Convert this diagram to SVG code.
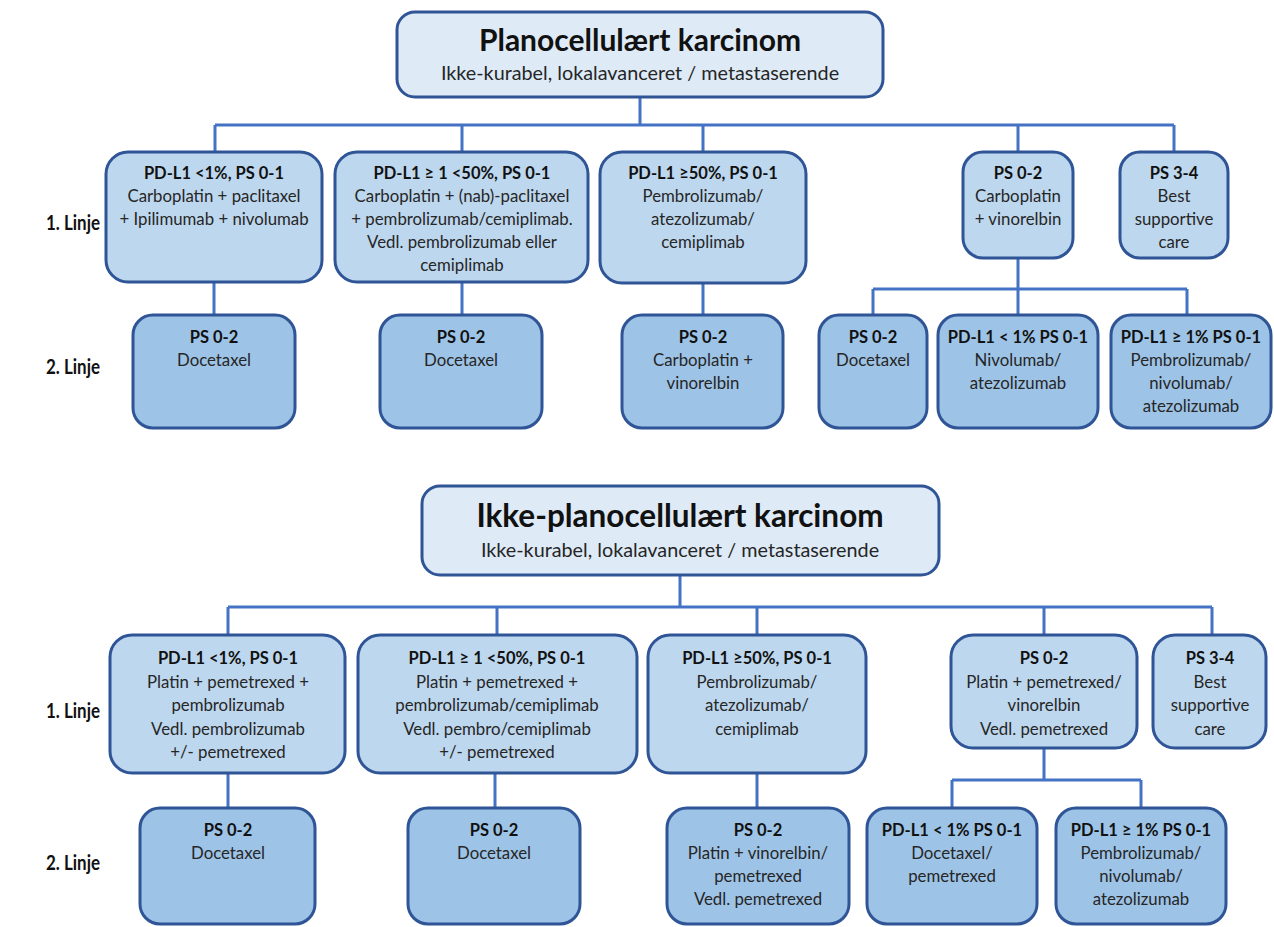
<svg xmlns="http://www.w3.org/2000/svg" width="1274" height="927" viewBox="0 0 1274 927">
<style>
.title{fill:#DEEBF7;stroke:#2F5597;stroke-width:3}
.r1{fill:#BDD7EE;stroke:#2F5597;stroke-width:3}
.r2{fill:#9DC3E6;stroke:#2F5597;stroke-width:3}
.conn path{fill:none;stroke:#4472C4;stroke-width:3}
text{font-family:Lato,"Liberation Sans",sans-serif;text-anchor:middle;fill:#262626}
.h{font-size:16.5px;font-weight:bold;fill:#111}
.t{font-size:16.8px}
.big{font-size:30px;font-weight:bold;fill:#111}
.big2{font-size:31.5px;font-weight:bold;fill:#111}
.sub{font-size:19.8px}
.lab{font-size:20px;font-weight:bold;fill:#111;text-anchor:start}
</style>
<rect width="1274" height="927" fill="#fff"/>
<g class="conn" id="connectors">
<path d="M640,97V125M215,125H1174M215,125V152M462,125V152M703,125V152M1018,125V152M1174,125V152"/>
<path d="M214,282V315M462,282V315M703,283V315M1018,258V315M873,289H1187M873,289V315M1187,289V315"/>
<path d="M680,575V607M228,607H1212M228,607V635M497,607V635M757,607V635M1044,607V635M1212,607V635"/>
<path d="M228,773V808M495,773V808M757,773V808M1044,748V780M952,780H1141M952,780V808M1141,780V808"/>
</g>
<text class="lab" x="46" y="230" textLength="54" lengthAdjust="spacingAndGlyphs">1. Linje</text>
<text class="lab" x="46" y="374" textLength="54" lengthAdjust="spacingAndGlyphs">2. Linje</text>
<text class="lab" x="46" y="718" textLength="54" lengthAdjust="spacingAndGlyphs">1. Linje</text>
<text class="lab" x="46" y="870" textLength="54" lengthAdjust="spacingAndGlyphs">2. Linje</text>
<g id="title1"><rect class="title" x="397" y="12" width="486" height="85" rx="18"/>
<text class="big" x="640" y="51">Planocellulært karcinom</text>
<text class="sub" x="640" y="80">Ikke-kurabel, lokalavanceret / metastaserende</text></g>
<g id="t1a"><rect class="r1" x="106" y="152" width="216" height="130" rx="22"/>
<text class="h" x="214" y="179">PD-L1 &lt;1%, PS 0-1</text>
<text class="t" x="214" y="202">Carboplatin  + paclitaxel</text>
<text class="t" x="214" y="225">+ Ipilimumab  + nivolumab</text></g>
<g id="t1b"><rect class="r1" x="335" y="152" width="253" height="130" rx="22"/>
<text class="h" x="462" y="179">PD-L1 ≥ 1 &lt;50%, PS 0-1</text>
<text class="t" x="462" y="202">Carboplatin  + (nab)-paclitaxel</text>
<text class="t" x="462" y="225">+ pembrolizumab/cemiplimab.</text>
<text class="t" x="462" y="248">Vedl. pembrolizumab  eller</text>
<text class="t" x="462" y="271">cemiplimab</text></g>
<g id="t1c"><rect class="r1" x="600" y="152" width="206" height="131" rx="22"/>
<text class="h" x="703" y="179">PD-L1 ≥50%, PS 0-1</text>
<text class="t" x="703" y="202">Pembrolizumab/</text>
<text class="t" x="703" y="225">atezolizumab/</text>
<text class="t" x="703" y="248">cemiplimab</text></g>
<g id="t1d"><rect class="r1" x="963" y="152" width="110" height="106" rx="20"/>
<text class="h" x="1018" y="179">PS 0-2</text>
<text class="t" x="1018" y="202">Carboplatin</text>
<text class="t" x="1018" y="225">+ vinorelbin</text></g>
<g id="t1e"><rect class="r1" x="1120" y="152" width="108" height="106" rx="20"/>
<text class="h" x="1174" y="179">PS 3-4</text>
<text class="t" x="1174" y="202">Best</text>
<text class="t" x="1174" y="225">supportive</text>
<text class="t" x="1174" y="248">care</text></g>
<g id="t2a"><rect class="r2" x="133" y="315" width="162" height="113" rx="20"/>
<text class="h" x="214" y="343">PS 0-2</text>
<text class="t" x="214" y="366">Docetaxel</text></g>
<g id="t2b"><rect class="r2" x="380" y="315" width="162" height="113" rx="20"/>
<text class="h" x="461" y="343">PS 0-2</text>
<text class="t" x="461" y="366">Docetaxel</text></g>
<g id="t2c"><rect class="r2" x="622" y="315" width="161" height="113" rx="20"/>
<text class="h" x="703" y="343">PS 0-2</text>
<text class="t" x="703" y="366">Carboplatin  +</text>
<text class="t" x="703" y="389">vinorelbin</text></g>
<g id="t2d1"><rect class="r2" x="819" y="315" width="108" height="113" rx="20"/>
<text class="h" x="873" y="343">PS 0-2</text>
<text class="t" x="873" y="366">Docetaxel</text></g>
<g id="t2d2"><rect class="r2" x="938" y="315" width="160" height="113" rx="20"/>
<text class="h" x="1018" y="343">PD-L1 &lt; 1% PS 0-1</text>
<text class="t" x="1018" y="366">Nivolumab/</text>
<text class="t" x="1018" y="389">atezolizumab</text></g>
<g id="t2d3"><rect class="r2" x="1111" y="315" width="160" height="113" rx="20"/>
<text class="h" x="1191" y="343">PD-L1 ≥ 1% PS 0-1</text>
<text class="t" x="1191" y="366">Pembrolizumab/</text>
<text class="t" x="1191" y="389">nivolumab/</text>
<text class="t" x="1191" y="412">atezolizumab</text></g>
<g id="title2"><rect class="title" x="422" y="486" width="517" height="89" rx="18"/>
<text class="big2" x="680" y="527">Ikke-planocellulært karcinom</text>
<text class="sub" x="680" y="557">Ikke-kurabel, lokalavanceret / metastaserende</text></g>
<g id="b1a"><rect class="r1" x="110" y="635" width="235" height="138" rx="22"/>
<text class="h" x="228" y="664">PD-L1 &lt;1%, PS 0-1</text>
<text class="t" x="228" y="688">Platin + pemetrexed  +</text>
<text class="t" x="228" y="711">pembrolizumab</text>
<text class="t" x="228" y="735">Vedl. pembrolizumab</text>
<text class="t" x="228" y="758">+/- pemetrexed</text></g>
<g id="b1b"><rect class="r1" x="358" y="635" width="279" height="138" rx="22"/>
<text class="h" x="497" y="664">PD-L1 ≥ 1 &lt;50%, PS 0-1</text>
<text class="t" x="497" y="688">Platin + pemetrexed  +</text>
<text class="t" x="497" y="711">pembrolizumab/cemiplimab</text>
<text class="t" x="497" y="735">Vedl. pembro/cemiplimab</text>
<text class="t" x="497" y="758">+/- pemetrexed</text></g>
<g id="b1c"><rect class="r1" x="648" y="635" width="218" height="138" rx="22"/>
<text class="h" x="757" y="664">PD-L1 ≥50%, PS 0-1</text>
<text class="t" x="757" y="688">Pembrolizumab/</text>
<text class="t" x="757" y="711">atezolizumab/</text>
<text class="t" x="757" y="735">cemiplimab</text></g>
<g id="b1d"><rect class="r1" x="951" y="635" width="186" height="113" rx="22"/>
<text class="h" x="1044" y="664">PS 0-2</text>
<text class="t" x="1044" y="688">Platin + pemetrexed/</text>
<text class="t" x="1044" y="711">vinorelbin</text>
<text class="t" x="1044" y="735">Vedl. pemetrexed</text></g>
<g id="b1e"><rect class="r1" x="1153" y="635" width="113" height="113" rx="22"/>
<text class="h" x="1210" y="664">PS 3-4</text>
<text class="t" x="1210" y="688">Best</text>
<text class="t" x="1210" y="711">supportive</text>
<text class="t" x="1210" y="735">care</text></g>
<g id="b2a"><rect class="r2" x="140" y="808" width="175" height="116" rx="20"/>
<text class="h" x="228" y="836">PS 0-2</text>
<text class="t" x="228" y="859">Docetaxel</text></g>
<g id="b2b"><rect class="r2" x="408" y="808" width="172" height="116" rx="20"/>
<text class="h" x="494" y="836">PS 0-2</text>
<text class="t" x="494" y="859">Docetaxel</text></g>
<g id="b2c"><rect class="r2" x="667" y="808" width="182" height="116" rx="20"/>
<text class="h" x="758" y="836">PS 0-2</text>
<text class="t" x="758" y="859">Platin + vinorelbin/</text>
<text class="t" x="758" y="882">pemetrexed</text>
<text class="t" x="758" y="905">Vedl. pemetrexed</text></g>
<g id="b2d1"><rect class="r2" x="867" y="808" width="170" height="116" rx="20"/>
<text class="h" x="952" y="836">PD-L1 &lt; 1% PS 0-1</text>
<text class="t" x="952" y="859">Docetaxel/</text>
<text class="t" x="952" y="882">pemetrexed</text></g>
<g id="b2d2"><rect class="r2" x="1056" y="808" width="170" height="116" rx="20"/>
<text class="h" x="1141" y="836">PD-L1 ≥ 1% PS 0-1</text>
<text class="t" x="1141" y="859">Pembrolizumab/</text>
<text class="t" x="1141" y="882">nivolumab/</text>
<text class="t" x="1141" y="905">atezolizumab</text></g>
</svg>
